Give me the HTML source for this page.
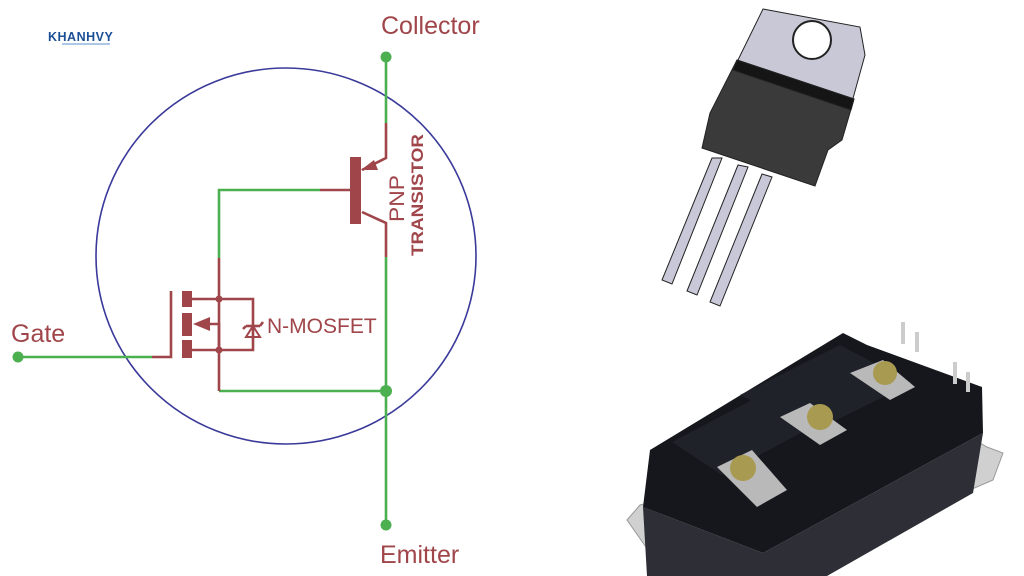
<!DOCTYPE html>
<html><head><meta charset="utf-8"><style>
html,body{margin:0;padding:0;background:#fff;width:1024px;height:576px;overflow:hidden}
svg{display:block}
</style></head><body>
<svg width="1024" height="576" viewBox="0 0 1024 576" xmlns="http://www.w3.org/2000/svg">
<rect width="1024" height="576" fill="#fff"/>
<!-- logo -->
<text x="48" y="41" font-family="Liberation Sans, sans-serif" font-weight="bold" font-size="12.5" fill="#1b4f96" letter-spacing="0.5">KHANHVY</text>
<line x1="62" y1="44" x2="110" y2="44" stroke="#5b8fd0" stroke-width="1"/>
<!-- circle -->
<ellipse cx="286" cy="256" rx="190" ry="188" fill="none" stroke="#3a3a9a" stroke-width="1.6"/>
<g fill="none" stroke-width="2.6" stroke-linecap="butt">
<g stroke="#4caf50">
<line x1="386" y1="57" x2="386" y2="123"/>
<line x1="386" y1="257" x2="386" y2="525"/>
<polyline points="320,190 219,190 219,258"/>
<line x1="219" y1="391" x2="386" y2="391"/>
<line x1="18" y1="357" x2="152" y2="357"/>
</g>
<g stroke="#a0454a">
<polyline points="386,123 386,158 362,170"/>
<polyline points="362,212 386,223 386,257"/>
<line x1="320" y1="190" x2="352" y2="190"/>
<polyline points="219,258 219,391"/>
<polyline points="152,357 171,357 171,291"/>
<polyline points="192,299 253,299 253,350 192,350"/>
<polyline points="210,324 219,324 219,350"/>
<line x1="246" y1="326" x2="260" y2="326"/>
<polyline points="260,326 263,322"/>
<polyline points="246,326 243,329"/>
</g>
</g>
<g fill="#a0454a">
<rect x="350" y="157" width="11" height="67"/>
<polygon points="361,170 374,160 378,170 "/>
<rect x="182" y="291" width="10" height="16"/>
<rect x="182" y="313" width="10" height="23"/>
<rect x="182" y="340" width="10" height="18"/>
<polygon points="193,324 210,317 210,331"/>
<polygon points="246,337 260,337 253,326" fill="none" stroke="#a0454a" stroke-width="2"/>
<circle cx="219" cy="299" r="3.5"/>
<circle cx="219" cy="350" r="3.5"/>
</g>
<g fill="#4caf50">
<circle cx="386" cy="57" r="5.5"/>
<circle cx="386" cy="525" r="5.5"/>
<circle cx="18" cy="357" r="5.5"/>
<circle cx="386" cy="391" r="6"/>
</g>
<g font-family="Liberation Sans, sans-serif" fill="#a0454a">
<text x="381" y="34" font-size="25">Collector</text>
<text x="380" y="563" font-size="25">Emitter</text>
<text x="11" y="342" font-size="25">Gate</text>
<text x="267" y="333" font-size="21">N-MOSFET</text>
<text transform="translate(404,222) rotate(-90)" font-size="21" textLength="47" lengthAdjust="spacingAndGlyphs">PNP</text>
<text transform="translate(423,256) rotate(-90)" font-size="17" font-weight="bold" textLength="122" lengthAdjust="spacingAndGlyphs">TRANSISTOR</text>
</g>
<!-- TO-220 -->
<g stroke="#222" stroke-width="1">
<g fill="#c8c8d8">
<polygon points="712,158 722,158 672,284 662,280"/>
<polygon points="738,165 748,167 697,295 687,291"/>
<polygon points="762,174 772,177 720,306 710,302"/>
</g>
<polygon points="763,9 860,27 865,55 852,102 737,62" fill="#c8c8d6"/>
<circle cx="812" cy="40" r="19" fill="#fff" stroke="#222" stroke-width="2"/>
<polygon points="737,60 854,99 842,140 828,150 815,186 702,148 710,113" fill="#3a3a3a"/>
<polygon points="737,60 854,99 851,110 733,70" fill="#151515"/>
</g>
<!-- module -->
<g>
<polygon points="627,520 640,505 660,500 655,560" fill="#d0d0d0" stroke="#999"/>
<polygon points="975,440 987,447 1003,453 993,480 970,490" fill="#d0d0d0" stroke="#999"/>
<polygon points="643,507 763,553 983,433 973,493 827,576 647,576" fill="#2e2f36"/>
<polygon points="650,450 843,333 867,345 982,387 983,433 763,553 643,507" fill="#16171c"/>
<polygon points="672,442 790,380 840,412 722,475" fill="#20222a"/>
<polygon points="740,395 840,345 912,383 812,432" fill="#20222a"/>
<rect x="901" y="322" width="4" height="22" fill="#ccc"/>
<rect x="915" y="332" width="4" height="20" fill="#ccc"/>
<rect x="953" y="362" width="4" height="22" fill="#ccc"/>
<rect x="966" y="372" width="4" height="20" fill="#ccc"/>
<polygon points="717,467 752,450 787,490 757,507" fill="#b9b9b9"/>
<polygon points="780,417 810,403 847,430 820,445" fill="#b9b9b9"/>
<polygon points="850,373 883,360 915,387 890,400" fill="#b9b9b9"/>
<circle cx="743" cy="468" r="13" fill="#a89a50"/>
<circle cx="820" cy="417" r="13" fill="#a89a50"/>
<circle cx="885" cy="373" r="12" fill="#a89a50"/>
</g>
</svg>
</body></html>
